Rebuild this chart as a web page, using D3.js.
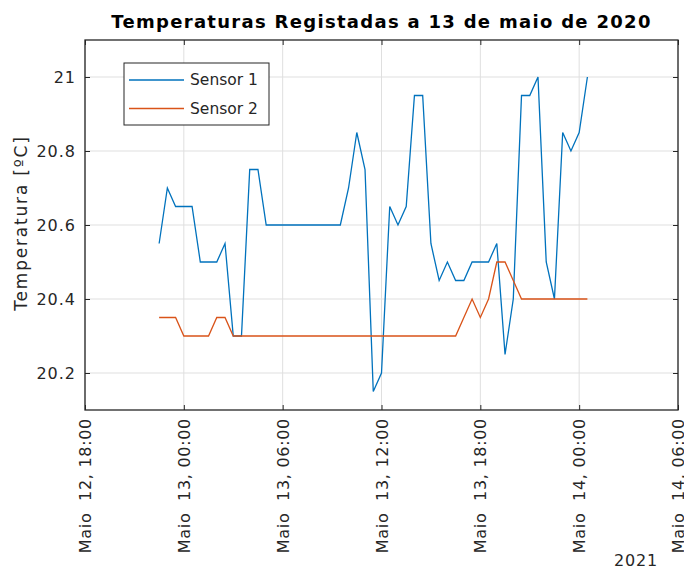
<!DOCTYPE html>
<html>
<head>
<meta charset="utf-8">
<script src="https://cdn.jsdelivr.net/npm/d3@7"></script>
<style>
  body { margin: 0; background: #fff; }
  text { font-family: "DejaVu Sans", sans-serif; fill: #262626; }
</style>
</head>
<body>
<div class="svgContainer"></div>
<script>
// readings every 30 min, 12 May 22:30 -> 14 May 00:30
let times = [
  "2021-05-12 22:30", "2021-05-12 23:00", "2021-05-12 23:30",
  "2021-05-13 00:00", "2021-05-13 00:30", "2021-05-13 01:00", "2021-05-13 01:30",
  "2021-05-13 02:00", "2021-05-13 02:30", "2021-05-13 03:00", "2021-05-13 03:30",
  "2021-05-13 04:00", "2021-05-13 04:30", "2021-05-13 05:00", "2021-05-13 05:30",
  "2021-05-13 06:00", "2021-05-13 06:30", "2021-05-13 07:00", "2021-05-13 07:30",
  "2021-05-13 08:00", "2021-05-13 08:30", "2021-05-13 09:00", "2021-05-13 09:30",
  "2021-05-13 10:00", "2021-05-13 10:30", "2021-05-13 11:00", "2021-05-13 11:30",
  "2021-05-13 12:00", "2021-05-13 12:30", "2021-05-13 13:00", "2021-05-13 13:30",
  "2021-05-13 14:00", "2021-05-13 14:30", "2021-05-13 15:00", "2021-05-13 15:30",
  "2021-05-13 16:00", "2021-05-13 16:30", "2021-05-13 17:00", "2021-05-13 17:30",
  "2021-05-13 18:00", "2021-05-13 18:30", "2021-05-13 19:00", "2021-05-13 19:30",
  "2021-05-13 20:00", "2021-05-13 20:30", "2021-05-13 21:00", "2021-05-13 21:30",
  "2021-05-13 22:00", "2021-05-13 22:30", "2021-05-13 23:00", "2021-05-13 23:30",
  "2021-05-14 00:00", "2021-05-14 00:30"
];

let sensor1 = [
  20.55, 20.7, 20.65, 20.65, 20.65, 20.5, 20.5, 20.5, 20.55, 20.3,
  20.3, 20.75, 20.75, 20.6, 20.6, 20.6, 20.6, 20.6, 20.6, 20.6,
  20.6, 20.6, 20.6, 20.7, 20.85, 20.75, 20.15, 20.2, 20.65, 20.6,
  20.65, 20.95, 20.95, 20.55, 20.45, 20.5, 20.45, 20.45, 20.5, 20.5,
  20.5, 20.55, 20.25, 20.4, 20.95, 20.95, 21.0, 20.5, 20.4, 20.85,
  20.8, 20.85, 21.0
];

let sensor2 = [
  20.35, 20.35, 20.35, 20.3, 20.3, 20.3, 20.3, 20.35, 20.35, 20.3,
  20.3, 20.3, 20.3, 20.3, 20.3, 20.3, 20.3, 20.3, 20.3, 20.3,
  20.3, 20.3, 20.3, 20.3, 20.3, 20.3, 20.3, 20.3, 20.3, 20.3,
  20.3, 20.3, 20.3, 20.3, 20.3, 20.3, 20.3, 20.35, 20.4, 20.35,
  20.4, 20.5, 20.5, 20.45, 20.4, 20.4, 20.4, 20.4, 20.4, 20.4,
  20.4, 20.4, 20.4
];

let seriesNames = ["Sensor 1", "Sensor 2"];
let seriesColors = ["#0072BD", "#D95319"];

let xTicks = [
  "2021-05-12 18:00", "2021-05-13 00:00", "2021-05-13 06:00",
  "2021-05-13 12:00", "2021-05-13 18:00", "2021-05-14 00:00", "2021-05-14 06:00"
];
let xTickLabels = [
  "Maio  12, 18:00", "Maio  13, 00:00", "Maio  13, 06:00",
  "Maio  13, 12:00", "Maio  13, 18:00", "Maio  14, 00:00", "Maio  14, 06:00"
];
let yTicks = [20.2, 20.4, 20.6, 20.8, 21];
let yTickLabels = ["20.2", "20.4", "20.6", "20.8", "21"];

let W = 684, H = 569;
let margin = { top: 40, right: 6, bottom: 159, left: 85 };
let width = W - margin.left - margin.right,
  height = H - margin.top - margin.bottom;

let parseTime = d3.timeParse("%Y-%m-%d %H:%M");
let dates = times.map(parseTime);
let tickDates = xTicks.map(parseTime);

let svg = d3
  .select(".svgContainer")
  .append("svg")
  .attr("width", W)
  .attr("height", H);

let g = svg
  .append("g")
  .attr("transform", "translate(" + margin.left + "," + margin.top + ")");

let xScale = d3
  .scaleTime()
  .domain([tickDates[0], tickDates[tickDates.length - 1]])
  .range([0, width]);

let yScale = d3
  .scaleLinear()
  .domain([20.1, 21.1])
  .range([height, 0]);

// grid lines
g.append("g")
  .selectAll("line.vgrid")
  .data(tickDates)
  .enter()
  .append("line")
  .attr("x1", d => xScale(d))
  .attr("x2", d => xScale(d))
  .attr("y1", 0)
  .attr("y2", height)
  .attr("stroke", "#dfdfdf")
  .attr("stroke-width", 1);

g.append("g")
  .selectAll("line.hgrid")
  .data(yTicks)
  .enter()
  .append("line")
  .attr("x1", 0)
  .attr("x2", width)
  .attr("y1", d => yScale(d))
  .attr("y2", d => yScale(d))
  .attr("stroke", "#dfdfdf")
  .attr("stroke-width", 1);

// series
let allSeries = [sensor1, sensor2];
let line = d3
  .line()
  .x((d, i) => xScale(dates[i]))
  .y(d => yScale(d));

allSeries.forEach((s, k) => {
  g.append("path")
    .datum(s)
    .attr("fill", "none")
    .attr("stroke", seriesColors[k])
    .attr("stroke-width", 1.3)
    .attr("stroke-linejoin", "miter")
    .attr("d", line);
});

// axes (inward ticks on all four sides, MATLAB box style)
let xAxis = d3
  .axisBottom(xScale)
  .tickValues(tickDates)
  .tickSize(-5)
  .tickFormat((d, i) => xTickLabels[i]);

let xAxisGroup = g
  .append("g")
  .attr("transform", "translate(0," + height + ")")
  .call(xAxis);

xAxisGroup
  .selectAll("text")
  .attr("x", 0)
  .attr("y", 0)
  .attr("dy", "0.35em")
  .attr("transform", "translate(0,8) rotate(-90)")
  .style("text-anchor", "end")
  .style("font-size", "16px")
  .style("letter-spacing", "0.7px")
  .style("white-space", "pre");

g.append("g")
  .call(d3.axisTop(xScale).tickValues(tickDates).tickSize(-5).tickFormat(""));

let yAxisGroup = g
  .append("g")
  .call(
    d3
      .axisLeft(yScale)
      .tickValues(yTicks)
      .tickSize(-5)
      .tickPadding(9)
      .tickFormat((d, i) => yTickLabels[i])
  );

yAxisGroup
  .selectAll("text")
  .style("font-size", "16px")
  .style("letter-spacing", "1px");

g.append("g")
  .attr("transform", "translate(" + width + ",0)")
  .call(d3.axisRight(yScale).tickValues(yTicks).tickSize(-5).tickFormat(""));

g.selectAll(".domain").remove();
g.selectAll(".tick line").attr("stroke", "#262626");

g.append("rect")
  .attr("width", width)
  .attr("height", height)
  .attr("fill", "none")
  .attr("stroke", "#262626")
  .attr("stroke-width", 1.3);

// labels
svg
  .append("text")
  .attr("x", margin.left + width / 2)
  .attr("y", 28)
  .attr("text-anchor", "middle")
  .style("font-size", "18px")
  .style("font-weight", "bold")
  .style("letter-spacing", "1.3px")
  .style("fill", "#000")
  .text("Temperaturas Registadas a 13 de maio de 2020");

svg
  .append("text")
  .attr("transform", "rotate(-90)")
  .attr("x", -(margin.top + height / 2) + 2)
  .attr("y", 27)
  .attr("text-anchor", "middle")
  .style("font-size", "17px")
  .style("letter-spacing", "1.8px")
  .text("Temperatura [ºC]");

svg
  .append("text")
  .attr("x", 658)
  .attr("y", 566)
  .attr("text-anchor", "end")
  .style("font-size", "16px")
  .style("letter-spacing", "0.8px")
  .text("2021");

// legend
let legend = g.append("g").attr("transform", "translate(39,23)");

legend
  .append("rect")
  .attr("width", 145)
  .attr("height", 62)
  .attr("fill", "#fff")
  .attr("stroke", "#262626")
  .attr("stroke-width", 1);

seriesNames.forEach((name, k) => {
  let yy = 17 + k * 28.5;
  legend
    .append("line")
    .attr("x1", 5)
    .attr("x2", 60)
    .attr("y1", yy)
    .attr("y2", yy)
    .attr("stroke", seriesColors[k])
    .attr("stroke-width", 1.3);
  legend
    .append("text")
    .attr("x", 66)
    .attr("y", yy)
    .attr("dy", "0.35em")
    .style("font-size", "15.5px")
    .text(name);
});
</script>
</body>
</html>
